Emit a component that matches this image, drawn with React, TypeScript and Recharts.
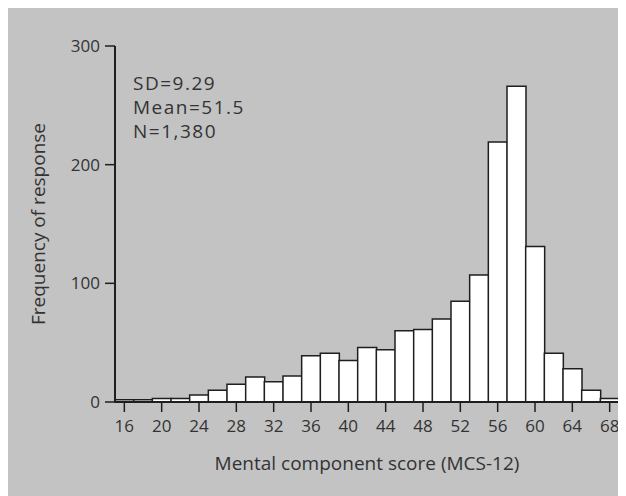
import React from 'react';
import { BarChart, Bar, XAxis, YAxis, Label } from 'recharts';

const scores = [16, 18, 20, 22, 24, 26, 28, 30, 32, 34, 36, 38, 40, 42, 44, 46, 48, 50, 52, 54, 56, 58, 60, 62, 64, 66, 68];
const frequencies = [2, 2, 3, 3, 6, 10, 15, 21, 17, 22, 39, 41, 35, 46, 44, 60, 61, 70, 85, 107, 219, 266, 131, 41, 28, 10, 3];
const yTicks = [0, 100, 200, 300];
const statsLines = ['SD=9.29', 'Mean=51.5', 'N=1,380'];
const xTitle = 'Mental component score (MCS-12)';
const yTitle = 'Frequency of response';

const data = scores.map((s, i) => ({ score: s, freq: frequencies[i] }));

const FONT = '"Open Sans", sans-serif';
const TEXT = '#333';
const INK = '#1e1e1e';

const XTitle = (props: any) => {
  const vb = props.viewBox || { x: 107, y: 394, width: 504, height: 60 };
  return (
    <text x={vb.x + vb.width / 2} y={vb.y + 68} textAnchor="middle" fill={TEXT} fontSize={19} fontFamily={FONT}>
      {xTitle}
    </text>
  );
};

const YTitle = (props: any) => {
  const vb = props.viewBox || { x: 0, y: 38, width: 107, height: 356 };
  const cx = 37;
  const cy = vb.y + vb.height / 2;
  return (
    <g>
      <text x={cx} y={cy} textAnchor="middle" fill={TEXT} fontSize={19} fontFamily={FONT} transform={`rotate(-90, ${cx}, ${cy})`}>
        {yTitle}
      </text>
      {statsLines.map((t, i) => (
        <text key={t} x={vb.x + vb.width + 18} y={vb.y + 44 + i * 24} fill={TEXT} fontSize={19} letterSpacing={1.5} fontFamily={FONT}>
          {t}
        </text>
      ))}
    </g>
  );
};

export default function App() {
  return (
    <div style={{ width: 618, height: 488, background: '#c3c3c3' }}>
      <BarChart
        width={618}
        height={488}
        data={data}
        margin={{ top: 38, right: 7, bottom: 34, left: 0 }}
        barCategoryGap={0}
        barGap={0}
      >
        <XAxis
          dataKey="score"
          interval={1}
          height={60}
          tickSize={10}
          tickMargin={8}
          axisLine={{ stroke: INK, strokeWidth: 2 }}
          tickLine={{ stroke: INK, strokeWidth: 1.5 }}
          tick={{ fill: TEXT, fontSize: 17, fontFamily: FONT }}
        >
          <Label content={XTitle} />
        </XAxis>
        <YAxis
          width={107}
          domain={[0, 300]}
          ticks={yTicks}
          tickSize={10}
          tickMargin={5}
          axisLine={{ stroke: INK, strokeWidth: 2 }}
          tickLine={{ stroke: INK, strokeWidth: 1.5 }}
          tick={{ fill: TEXT, fontSize: 17, fontFamily: FONT }}
        >
          <Label content={YTitle} />
        </YAxis>
        <Bar dataKey="freq" fill="#ffffff" stroke={INK} strokeWidth={1.5} isAnimationActive={false} />
      </BarChart>
    </div>
  );
}
